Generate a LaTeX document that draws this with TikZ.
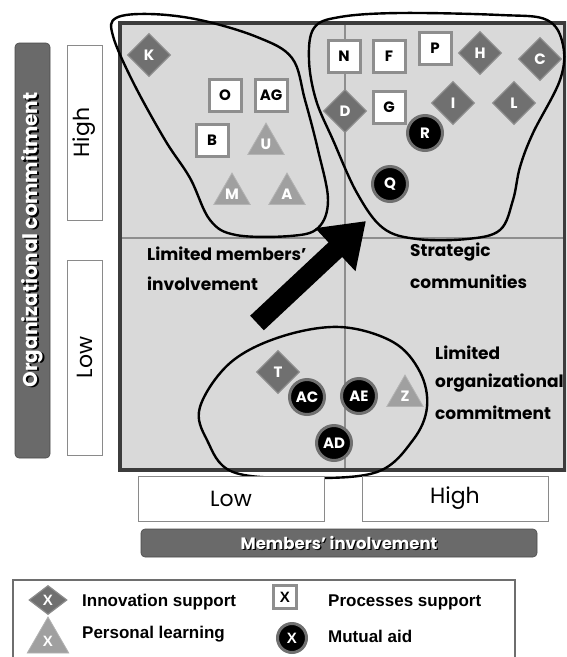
\documentclass[tikz,border=0pt]{standalone}
\usepackage{fontspec}
\setmainfont{Poppins}
\newfontfamily\legendfont{Liberation Sans}
\usetikzlibrary{shapes.geometric,arrows.meta}

\definecolor{panel}{HTML}{D9D9D9}
\definecolor{frame}{HTML}{3C3C3C}
\definecolor{midline}{HTML}{8E8E8E}
\definecolor{innovfill}{HTML}{707070}
\definecolor{innovedge}{HTML}{8C8C8C}
\definecolor{learnfill}{HTML}{A0A0A0}
\definecolor{procedge}{HTML}{8E8E8E}
\definecolor{aidring}{HTML}{707070}
\definecolor{barfill}{HTML}{6A6A6A}
\definecolor{boxedge}{HTML}{8A8A8A}

\tikzset{
  markfont/.style={font=\bfseries\fontsize{15}{15}\selectfont},
  innov/.style={diamond, fill=innovfill, draw=innovedge, line width=1.2pt,
    minimum width=43pt, minimum height=43pt, inner sep=0pt, text=white, markfont},
  proc/.style={rectangle, fill=white, draw=procedge, line width=3pt,
    minimum size=32pt, inner sep=0pt, text=black, markfont},
  learn/.style={regular polygon, regular polygon sides=3, fill=learnfill,
    draw=learnfill!80!white, line width=0.8pt, minimum size=42pt,
    inner sep=0pt, text=white, markfont},
  aid/.style={circle, fill=black, draw=aidring, line width=3pt,
    minimum size=35pt, inner sep=0pt, text=white, markfont},
  blob/.style={line width=2.4pt, black},
  quadtext/.style={anchor=west, inner sep=0pt, font=\bfseries\fontsize{17}{17}\selectfont},
  levelbox/.style={draw=boxedge, fill=white, line width=1pt, inner sep=0pt,
    font=\fontsize{22}{22}\selectfont},
  axisbar/.style={fill=barfill, rounded corners=4pt, draw=barfill!70!black, line width=0.6pt},
  axistext/.style={inner sep=0pt},
  legtext/.style={anchor=west, inner sep=0pt, font=\legendfont\bfseries\fontsize{17}{17}\selectfont},
  legmark/.style={font=\legendfont\bfseries\fontsize{15}{15}\selectfont}
}

\begin{document}
\begin{tikzpicture}[x=1pt,y=-1pt]
\useasboundingbox (0,0) rectangle (566,657);
\clip (0,0) rectangle (566,657);

% main panel with quadrant lines
\fill[panel] (120,23) rectangle (565,470);
\draw[midline, line width=1.3pt] (120,238) -- (565,238);
\draw[midline, line width=1.3pt] (345,23) -- (345,470);
\draw[frame, line width=3.5pt] (120,23) rectangle (565,470);

% groups of communities
\draw[blob] plot[smooth cycle, tension=0.6] coordinates {
  (116,18) (150,14) (200,20) (257,37) (292,58) (305,100) (318,150)
  (328,200) (318,228) (290,236) (236,235) (210,220) (190,178) (165,140)
  (133,82) (113,36)};
\draw[blob] plot[smooth cycle, tension=0.6] coordinates {
  (340,17) (400,13) (500,15) (547,20) (563,45) (560,80) (533,133)
  (520,167) (513,200) (500,230) (467,239) (417,239) (383,228) (357,193)
  (333,140) (316,100) (309,60) (314,28)};
\draw[blob] plot[smooth cycle, tension=0.6] coordinates {
  (340,327) (393,342) (420,372) (427,407) (413,440) (377,472) (305,478)
  (233,472) (207,440) (200,407) (230,363) (280,337)};

% transition arrow
\coordinate (arrowtail) at (257,323);
\coordinate (arrowtip) at (366,221);
\draw[line width=20pt, -{Triangle[length=42pt,width=56pt]}] (arrowtail) -- (arrowtip);

% quadrant captions
\node[quadtext] (lmi1) at (147,254) {Limited members'};
\node[quadtext] (lmi2) at (147,284) {involvement};
\node[quadtext] (sc1) at (410,252) {Strategic};
\node[quadtext] (sc2) at (410,282) {communities};
\node[quadtext] (loc1) at (435,353) {Limited};
\node[quadtext] (loc2) at (435,383) {organizational};
\node[quadtext] (loc3) at (435,413) {commitment};

% communities: limited members' involvement
\node[innov] (K) at (149,55) {K};
\node[proc] (O) at (225,95) {O};
\node[proc] (AG) at (271,95) {AG};
\node[proc] (B) at (212,140) {B};
\node[learn] (U) at (266,144) {U};
\node[learn] (M) at (232,194) {M};
\node[learn] (A) at (287,194) {A};

% communities: strategic
\node[proc] (N) at (344,56) {N};
\node[proc] (F) at (389,56) {F};
\node[proc] (P) at (435,48) {P};
\node[innov] (H) at (480,53) {H};
\node[innov] (C) at (540,59) {C};
\node[innov] (D) at (345,111) {D};
\node[proc] (G) at (389,107) {G};
\node[innov] (I) at (453,103) {I};
\node[innov] (L) at (514,103) {L};
\node[aid] (R) at (425,133) {R};
\node[aid] (Q) at (390,184) {Q};

% communities: limited organizational commitment
\node[innov] (T) at (278,372) {T};
\node[aid] (AC) at (307,397) {AC};
\node[aid] (AE) at (359,396) {AE};
\node[learn] (Z) at (405,396) {Z};
\node[aid] (AD) at (334,443) {AD};

% vertical axis
\path[axisbar] (15,43) rectangle (50,458);
\node[axistext, rotate=90, text=black, font=\bfseries\fontsize{20}{20}\selectfont] (orgshadow) at (33.8,241.2) {Organizational commitment};
\node[axistext, rotate=90, text=white, font=\bfseries\fontsize{20}{20}\selectfont] (orgc) at (32.6,240) {Organizational commitment};
\node[levelbox, minimum width=175pt, minimum height=35pt, rotate=90] (vhigh) at (84.5,132.5) {High};
\node[levelbox, minimum width=195pt, minimum height=35pt, rotate=90] (vlow) at (84.5,357.5) {Low};

% horizontal axis
\node[levelbox, minimum width=186pt, minimum height=45pt] (hlow) at (231,498.5) {Low};
\node[levelbox, minimum width=186pt, minimum height=45pt] (hhigh) at (455,498.5) {High};
\path[axisbar] (141,529) rectangle (537,557);
\node[axistext, text=black, font=\bfseries\fontsize{16.5}{16.5}\selectfont] (memshadow) at (340.2,544.2) {Members' involvement};
\node[axistext, text=white, font=\bfseries\fontsize{16.5}{16.5}\selectfont] (memi) at (339,543) {Members' involvement};

% legend
\draw[boxedge!80!black, line width=1.2pt] (13,580) rectangle (515,680);
\node[innov, minimum width=38pt, minimum height=29pt, legmark] (leginnov) at (48,600) {X};
\node[legtext] (leginnovt) at (82,602) {Innovation support};
\node[proc, minimum size=23pt, line width=2.5pt, legmark] (legproc) at (285,597) {X};
\node[legtext] (legproct) at (328,602) {Processes support};
\node[learn, minimum size=48pt, legmark] (leglearn) at (48,641) {X};
\node[legtext] (leglearnt) at (82,634) {Personal learning};
\node[aid, minimum size=29pt, legmark] (legaid) at (292,638) {X};
\node[legtext] (legaidt) at (328,636) {Mutual aid};
\end{tikzpicture}
\end{document}
